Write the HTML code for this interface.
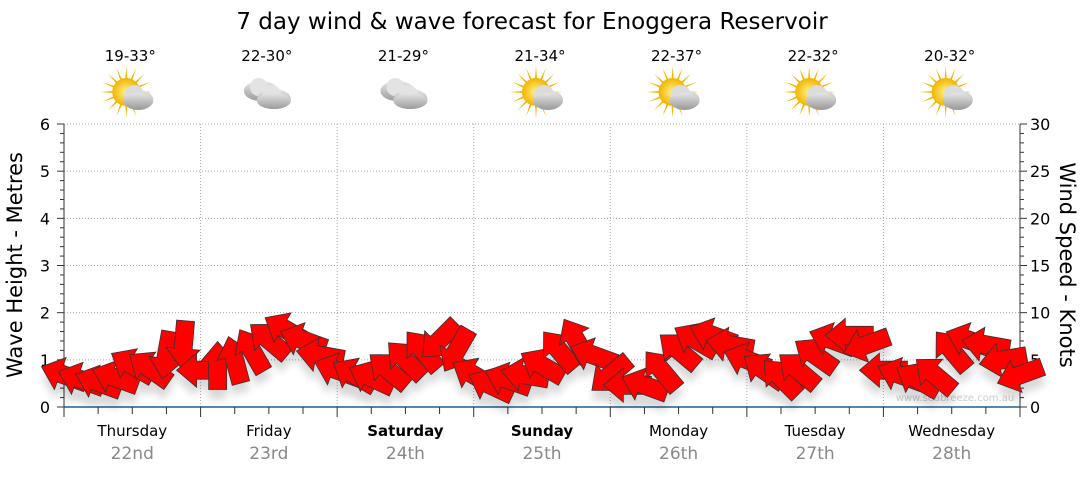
<!DOCTYPE html>
<html><head><meta charset="utf-8"><style>
body{margin:0;background:#fff;font-family:"Liberation Sans","DejaVu Sans",sans-serif}
</style></head><body>
<svg id="chart" width="1080" height="475" xmlns="http://www.w3.org/2000/svg" font-family="DejaVu Sans, Liberation Sans, sans-serif">
<defs>
<radialGradient id="sunG" cx="0.5" cy="0.5" r="0.5"><stop offset="0" stop-color="#fff38a"/><stop offset="1" stop-color="#f2b400"/></radialGradient>
<linearGradient id="cloudG" x1="0" y1="0" x2="0" y2="1"><stop offset="0" stop-color="#e6e6e6"/><stop offset="1" stop-color="#9c9c9c"/></linearGradient>
<filter id="sh" x="-50%" y="-50%" width="200%" height="200%"><feGaussianBlur stdDeviation="4"/></filter>
</defs>
<text x="532" y="29" font-size="23" text-anchor="middle" fill="#000">7 day wind &amp; wave forecast for Enoggera Reservoir</text>
<text transform="translate(22,265) rotate(-90)" font-size="21" text-anchor="middle">Wave Height - Metres</text>
<text transform="translate(1060,265) rotate(90)" font-size="21" text-anchor="middle">Wind Speed - Knots</text>
<text x="955" y="401" font-size="10" fill="#ccc" text-anchor="middle">www.seabreeze.com.au</text>
<g id="grid"></g><g id="axes"></g><g id="days"></g><g id="shadows" opacity="0.15"></g><g id="arrows"></g>
</svg>
<script>
const days=["Thursday","Friday","Saturday","Sunday","Monday","Tuesday","Wednesday"];
const dates=["22nd","23rd","24th","25th","26th","27th","28th"];
const temps=["19-33°","22-30°","21-29°","21-34°","22-37°","22-32°","20-32°"];
const icons=["sun","cloud","cloud","sun","sun","sun","sun"];
const waveTicks=[0,1,2,3,4,5,6];
const windTicks=[0,5,10,15,20,25,30];
const windKnots=[3.4,2.9,2.6,3.1,4.4,4.1,5.5,6.6, 3.9,4.4,5.0,6.0,7.1,8.2,7.1,5.5, 3.9,3.4,3.1,3.9,5.0,6.0,7.1,6.0, 3.4,2.3,2.9,3.4,4.4,6.0,7.1,5.5, 3.4,2.3,2.3,3.9,6.0,7.1,7.6,6.6, 5.0,3.9,3.1,3.9,5.5,7.1,7.6,6.6, 3.9,3.4,2.9,3.4,6.0,7.1,6.6,5.0,3.4];
const windDir=[200,200,200,200,210,215,100,95, 180,270,255,240,220,210,200,190, 200,210,205,220,225,230,135,120, 210,205,200,190,210,230,240,200, 140,180,200,230,220,210,200,190, 200,215,225,220,215,200,180,160, 180,200,210,220,230,200,190,170,160];
const NS="http://www.w3.org/2000/svg";
const L=64,R=1020,B=407,T=124,dayW=(R-L)/7;
const yW=v=>B-(B-T)*v/6, yK=k=>B-(B-T)*k/30, xH=h=>L+h*dayW/24;
function mk(tag,attrs,parent,text){const e=document.createElementNS(NS,tag);for(const k in attrs)e.setAttribute(k,attrs[k]);if(text!==undefined)e.textContent=text;parent.appendChild(e);return e;}
const grid=document.getElementById('grid'),axes=document.getElementById('axes'),dg=document.getElementById('days'),ag=document.getElementById('arrows'),sg=document.getElementById('shadows');
waveTicks.forEach((v,i)=>{const y=yW(v);
 if(v>0){const g=mk('line',{x1:L,x2:R,y1:y,y2:y,stroke:'#aaa','stroke-dasharray':'1,2'},grid);}
 const t=mk('text',{x:50,y:y+6,'font-size':16,'text-anchor':'end'},axes,v);
 const t2=mk('text',{x:1030,y:y+6,'font-size':16},axes,windTicks[i]);
 mk('line',{x1:L-7,x2:L,y1:y,y2:y,stroke:'#333'},axes);mk('line',{x1:R,x2:R+7,y1:y,y2:y,stroke:'#333'},axes);
 if(v<6)for(let j=1;j<5;j++){const yy=y-(B-T)/30*j;mk('line',{x1:L-4,x2:L,y1:yy,y2:yy,stroke:'#333'},axes);mk('line',{x1:R,x2:R+4,y1:yy,y2:yy,stroke:'#333'},axes);}
});
mk('line',{x1:L,x2:L,y1:T,y2:B,stroke:'#333'},axes);mk('line',{x1:R,x2:R,y1:T,y2:B,stroke:'#333'},axes);
const xa=mk('line',{x1:L,x2:R,y1:B,y2:B,stroke:'#1f5f8f','stroke-width':1.5},axes);
for(let h=0;h<=168;h+=6){const x=xH(h);mk('line',{x1:x,x2:x,y1:B,y2:B+(h%24?7:10),stroke:'#333'},axes);}
days.forEach((d,i)=>{const cx=L+dayW*(i+0.5);
 if(i>0){const g=mk('line',{x1:L+dayW*i,x2:L+dayW*i,y1:T,y2:B,stroke:'#aaa','stroke-dasharray':'1,2'},grid);}
 const w=(d=="Saturday"||d=="Sunday")?'bold':'normal';
 const a=mk('text',{x:cx,y:436,'font-size':15,'text-anchor':'middle','font-weight':w},dg,d);
 const b=mk('text',{x:cx,y:459,'font-size':17,'text-anchor':'middle',fill:'#888'},dg,dates[i]);
 const c=mk('text',{x:cx-2,y:61,'font-size':15,'text-anchor':'middle'},dg,temps[i]);
 const ic=mk('g',{transform:`translate(${cx},95)`},dg);
 if(icons[i]=="sun"){for(let r=0;r<16;r++){const an=r*22.5;mk('polygon',{points:'-2,0 2,0 0,-26',fill:'#f2b400',transform:`translate(-6,-3) rotate(${an})`},ic);}
  mk('circle',{cx:-6,cy:-3,r:14,fill:'url(#sunG)'},ic);
  mk('ellipse',{cx:6,cy:5,rx:15,ry:10,fill:'url(#cloudG)'},ic);mk('circle',{cx:2,cy:0,r:10,fill:'#dcdcdc'},ic);mk('ellipse',{cx:6,cy:6,rx:15,ry:8,fill:'url(#cloudG)'},ic);}
 else{mk('ellipse',{cx:-8,cy:-4,rx:17,ry:10,fill:'url(#cloudG)'},ic);mk('circle',{cx:-10,cy:-8,r:9,fill:'#e3e3e3'},ic);
  mk('ellipse',{cx:5,cy:4,rx:17,ry:10,fill:'url(#cloudG)'},ic);mk('circle',{cx:3,cy:-1,r:9,fill:'#e3e3e3'},ic);mk('ellipse',{cx:5,cy:6,rx:17,ry:8,fill:'url(#cloudG)'},ic);}
});
const pts='-24,-9 4,-9 4,-17 24,0 4,17 4,9 -24,9';
windKnots.forEach((k,i)=>{const x=xH(i*3),y=yK(k);
 const s=mk('polygon',{points:pts,fill:'#000',filter:'url(#sh)',transform:`translate(${x},${y+10}) rotate(${windDir[i]})`},sg);
 
 
 const p=mk('polygon',{points:pts,fill:'#f00',stroke:'#333','stroke-width':0.8,transform:`translate(${x},${y}) rotate(${windDir[i]})`},ag);
 
 
});
</script>
</body></html>
